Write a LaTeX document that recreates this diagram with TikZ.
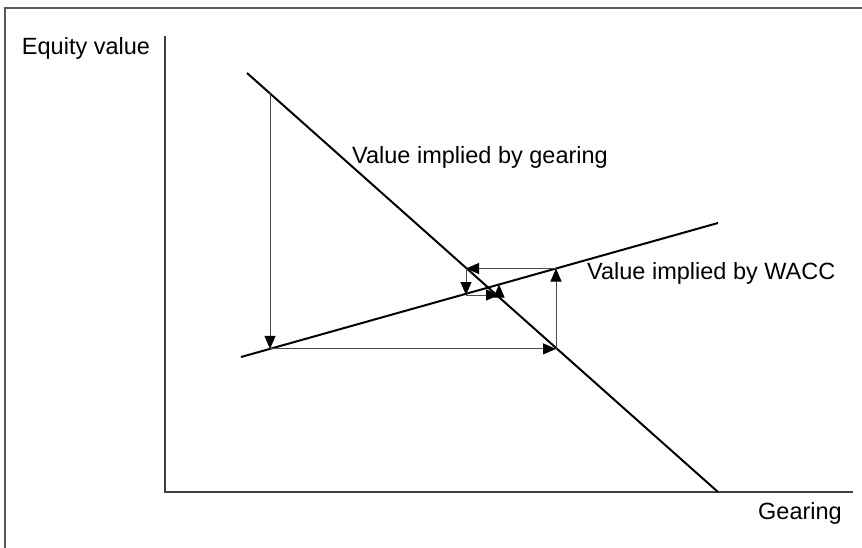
\documentclass[tikz,border=0pt]{standalone}
\usepackage{fontspec}
\setmainfont{Liberation Sans}
\usetikzlibrary{arrows.meta}

\begin{document}
\begin{tikzpicture}[x=1pt,y=-1pt,>={Triangle[length=13pt,width=11pt,color=black]},
  curve/.style={line width=2pt,black},
  step arrow/.style={->,line width=0.9pt,black!70},
  lbl/.style={inner sep=0pt,font=\fontsize{23.5}{28}\selectfont}]
  \useasboundingbox (0,0) rectangle (862,548);
  % frame
  \draw[line width=1.2pt,black!65] (5,548) -- (5,8) -- (862,8);
  % axes
  \coordinate (o) at (165,492);
  \draw[line width=1.5pt,black!75] (165,36) -- (o) -- (853,492);
  \node[lbl] (ylab) at (86,48) {Equity value};
  \node[lbl] (xlab) at (800,513) {Gearing};

  % the two lines
  \coordinate (g0) at (247,73);
  \coordinate (g1) at (718,492);
  \coordinate (w0) at (241,357);
  \coordinate (w1) at (718,223);
  \draw[curve] (g0) -- (g1);
  \draw[curve] (w0) -- (w1);
  \node[lbl,anchor=west] (glab) at (352,157) {Value implied by gearing};
  \node[lbl,anchor=west] (wlab) at (587,273) {Value implied by WACC};

  % iteration
  \coordinate (p1) at (270,93.5);
  \coordinate (p2) at (270,348.9);
  \coordinate (p3) at (556,348.9);
  \coordinate (p4) at (556,268.5);
  \coordinate (p5) at (466,268.5);
  \coordinate (p6) at (466,295);
  \coordinate (p7) at (499,295);
  \coordinate (p8) at (499,284.5);
  \draw[step arrow] (p1) -- (p2);
  \draw[step arrow] (p2) -- (p3);
  \draw[step arrow] (p3) -- (p4);
  \draw[step arrow] (p4) -- (p5);
  \draw[step arrow] (p5) -- (p6);
  \draw[step arrow] (p6) -- (p7);
  \draw[step arrow] (p7) -- (p8);
\end{tikzpicture}
\end{document}
